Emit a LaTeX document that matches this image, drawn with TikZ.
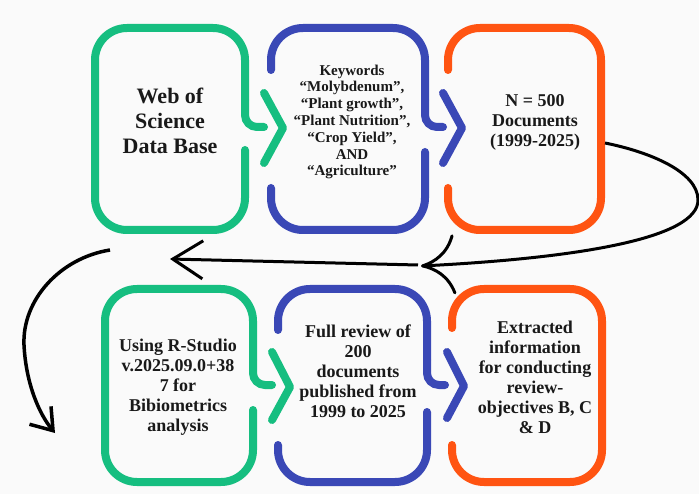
\documentclass[tikz,border=0pt]{standalone}
\usepackage{fontspec}
\setmainfont{Liberation Serif}
\usepackage{tikz}
\usetikzlibrary{arrows.meta}
\definecolor{GreenFrame}{RGB}{22,190,128}
\definecolor{BlueFrame}{RGB}{58,72,182}
\definecolor{OrangeFrame}{RGB}{255,84,18}
\definecolor{PaperColor}{RGB}{250,250,250}
\newcommand{\textsize}[2]{\bfseries\fontsize{#1}{#2}\selectfont}
\tikzstyle{frame} = [line width=8pt, line cap=round, rounded corners=32pt]
\tikzstyle{curl} = [line width=8pt, line cap=round, rounded corners=12pt]
\tikzstyle{chevron} = [line width=8pt, line cap=round, line join=round]
\tikzstyle{flow} = [line width=3pt, black]
\tikzset{
  boxtext/.style={align=center, inner sep=0pt, text=black!90},
  bigtext/.style={boxtext, font=\textsize{22}{25}},
  smalltext/.style={boxtext, font=\textsize{15}{16.8}},
  midtext/.style={boxtext, font=\textsize{18}{20}}
}
\begin{document}
\begin{tikzpicture}[x=1pt, y=-1pt]
  % Paper
  \fill[PaperColor] (0,0) rectangle (699,494);
  \useasboundingbox (0,0) rectangle (699,494);

  % Web of Science
  \draw[frame, GreenFrame] (245,100) -- (245,28) -- (95,28) -- (95,230) -- (245,230) -- (245,150);
  \draw[curl, GreenFrame] (245,100) -- (245,127) -- (264,127);
  \draw[chevron, GreenFrame] (264,93) -- (283,128) -- (264,163);
  \node[bigtext] (wos) at (170,121) {Web of\\Science\\Data Base};

  % Keywords
  \draw[frame, BlueFrame] (271,70) -- (271,28) -- (425,28) -- (425,100);
  \draw[curl, BlueFrame] (425,100) -- (425,127) -- (443,127);
  \draw[frame, BlueFrame] (425,152) -- (425,230) -- (271,230) -- (271,188);
  \draw[chevron, BlueFrame] (443,93) -- (462,128) -- (443,163);
  \node[smalltext] (keys) at (352,122) {Keywords\\“Molybdenum”,\\“Plant growth”,\\“Plant Nutrition”,\\“Crop Yield”,\\AND\\“Agriculture”};

  % Documents found
  \draw[frame, OrangeFrame] (448,70) -- (448,28) -- (601,28) -- (601,230) -- (448,230) -- (448,188);
  \node[midtext] (docs) at (535,122) {N = 500\\Documents\\(1999-2025)};

  % R-Studio
  \draw[frame, GreenFrame] (253,360) -- (253,289) -- (105,289) -- (105,482) -- (253,482) -- (253,410);
  \draw[curl, GreenFrame] (253,360) -- (253,385) -- (272,385);
  \draw[chevron, GreenFrame] (272,352) -- (290,387) -- (272,420);
  \node[midtext] (rstudio) at (178,387) {Using R-Studio\\v.2025.09.0+38\\7 for\\Bibiometrics\\analysis};

  % Full review
  \draw[frame, BlueFrame] (278,330) -- (278,289) -- (427,289) -- (427,360);
  \draw[curl, BlueFrame] (427,360) -- (427,385) -- (445,385);
  \draw[frame, BlueFrame] (427,412) -- (427,482) -- (278,482) -- (278,445);
  \draw[chevron, BlueFrame] (447,352) -- (464,386) -- (447,418);
  \node[midtext] (review) at (358,371) {Full review of\\200\\documents\\published from\\1999 to 2025};

  % Extracted information
  \draw[frame, OrangeFrame] (452,328) -- (452,289) -- (602,289) -- (602,482) -- (452,482) -- (452,445);
  \node[midtext] (extract) at (535,377) {Extracted\\information\\for conducting\\review-\\objectives B, C\\\& D};

  % Return arrows
  \coordinate (turnstart) at (605,143);
  \coordinate (turnright) at (698,200);
  \coordinate (turnend) at (421,266);
  \coordinate (backstart) at (418,265);
  \coordinate (backend) at (170,259);
  \coordinate (downstart) at (110,250);
  \coordinate (downend) at (55,433);
  \draw[flow, -{Computer Modern Rightarrow[length=34pt, width=60pt, line width=3pt]}] (turnstart) .. controls (650,152) and (698,172) .. (turnright) .. controls (698,238) and (580,258) .. (turnend);
  \draw[flow, -{Straight Barb[length=30pt, width=38pt]}] (backstart) -- (backend);
  \draw[flow, line width=3.5pt, -{Straight Barb[length=20pt, width=28pt]}] (downstart) .. controls (60,258) and (22,300) .. (24,345) .. controls (26,385) and (40,415) .. (downend);
\end{tikzpicture}
\end{document}
